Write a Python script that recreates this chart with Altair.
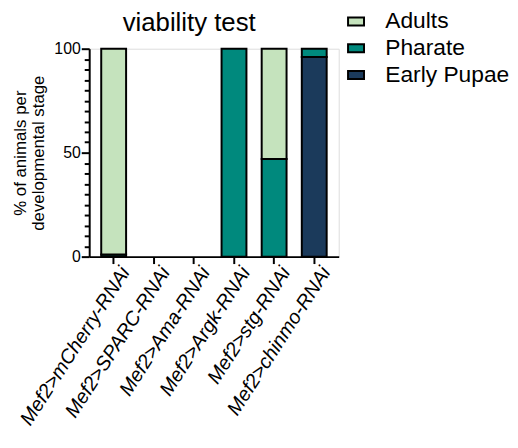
import altair as alt
import pandas as pd

genotypes = ["Mef2>mCherry-RNAi", "Mef2>SPARC-RNAi", "Mef2>Ama-RNAi",
             "Mef2>Argk-RNAi", "Mef2>stg-RNAi", "Mef2>chinmo-RNAi"]
stages = ["Adults", "Pharate", "Early Pupae"]
adults = [99, 0, 0, 0, 53, 0]
pharate = [1, 0, 0, 100, 47, 4]
early_pupae = [0, 0, 0, 0, 0, 96]
colors = ["#c5e3bd", "#00897d", "#1b3a5b"]

rows = []
for i, g in enumerate(genotypes):
    for s, vals, o in [("Early Pupae", early_pupae, 0), ("Pharate", pharate, 1), ("Adults", adults, 2)]:
        if vals[i] > 0:
            rows.append({"genotype": g, "stage": s, "value": vals[i], "ord": o})
df = pd.DataFrame(rows)

font = "Liberation Sans"

chart = alt.Chart(df).mark_bar(stroke="black", strokeWidth=2).encode(
    x=alt.X("genotype:N", sort=genotypes,
            scale=alt.Scale(domain=genotypes, paddingInner=0.38, paddingOuter=0.3),
            axis=alt.Axis(title=None, labelAngle=303, labelFontStyle="italic",
                          labelFontSize=20, labelFont=font, labelColor="black",
                          domainColor="black", domainWidth=2, tickColor="black",
                          tickWidth=2, tickSize=7, labelPadding=5, labelLimit=400,
                          labelOffset=12)),
    y=alt.Y("value:Q", stack="zero",
            scale=alt.Scale(domain=[0, 100], nice=False),
            axis=alt.Axis(title=["% of animals per", "developmental stage"],
                          titleFontSize=17, titleFont=font, titleFontWeight="normal",
                          titleColor="black", titlePadding=6,
                          values=list(range(0, 101, 5)),
                          labelExpr="datum.value % 50 === 0 ? datum.label : ''",
                          labelFontSize=16, labelFont=font, labelColor="black",
                          domainColor="black", domainWidth=2, tickColor="black",
                          tickWidth=2,
                          tickSize={"condition": {"test": "datum.value % 50 === 0", "value": 8}, "value": 5},
                          grid=False, labelPadding=1)),
    color=alt.Color("stage:N", sort=stages,
                    scale=alt.Scale(domain=stages, range=colors),
                    legend=alt.Legend(title=None, orient="none", legendX=258, legendY=-39,
                                      labelFontSize=23, labelFont=font, labelColor="black",
                                      symbolType="M-1,-0.5H1V0.5H-1Z", symbolSize=260,
                                      symbolStrokeColor="black", symbolStrokeWidth=2,
                                      rowPadding=3, labelOffset=18, padding=0)),
    order=alt.Order("ord:Q"),
).properties(
    width=252, height=210,
    title=alt.TitleParams("viability test", fontSize=26, font=font, fontWeight="normal",
                          color="black", anchor="middle", dx=-25, offset=0, dy=26),
).configure_view(stroke=None).configure(padding={"left": 3, "top": 0, "right": 0, "bottom": 0})

chart.save("out.html", embed_options={"renderer": "svg", "actions": False})
